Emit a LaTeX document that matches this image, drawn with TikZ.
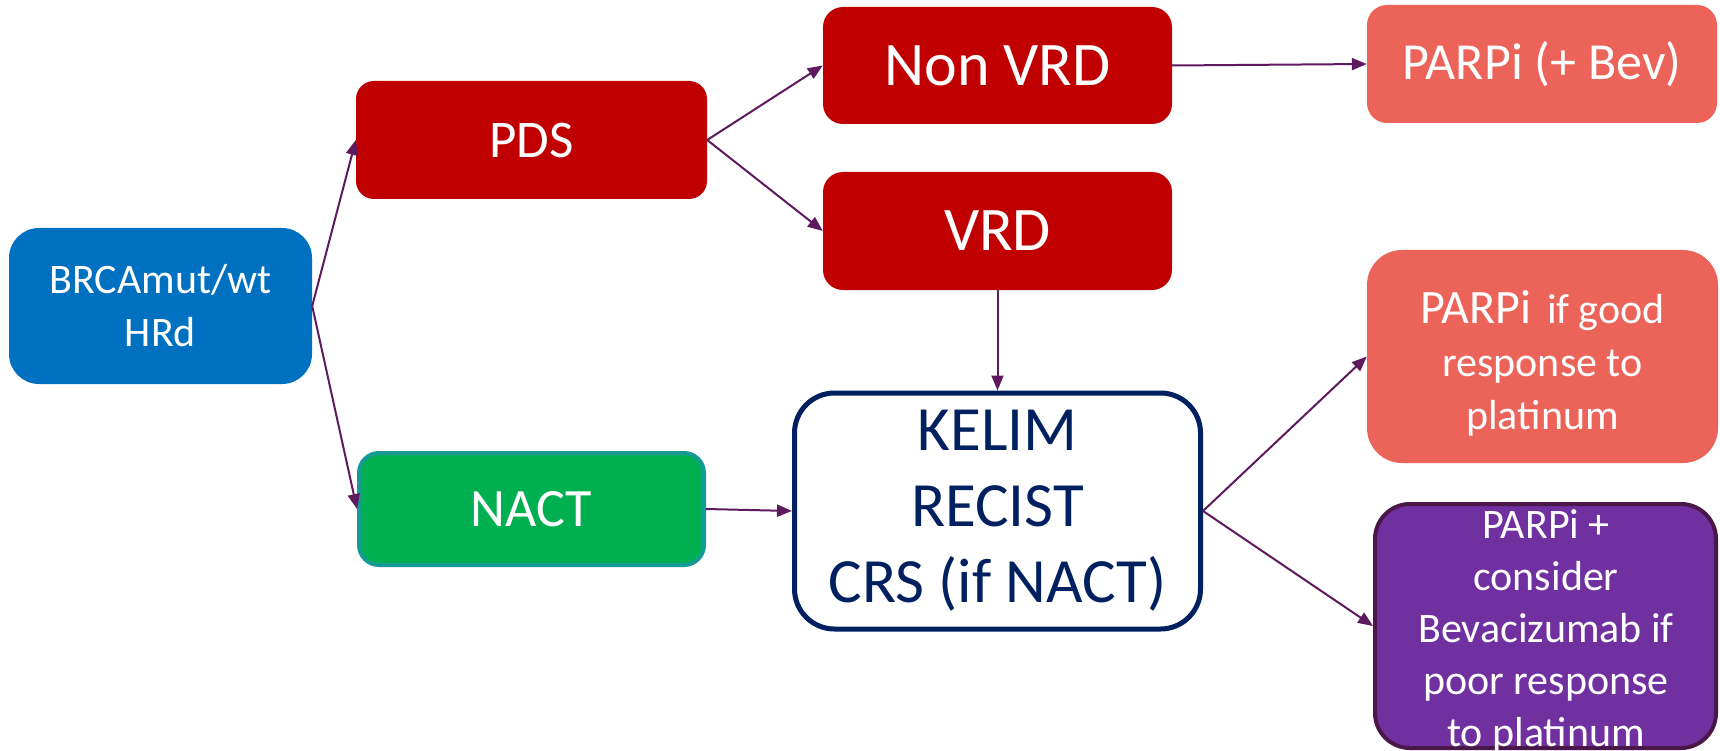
\documentclass[tikz,border=0pt]{standalone}
\usepackage{fontspec}
\setmainfont{Carlito}
\usetikzlibrary{arrows.meta}
\definecolor{cblue}{HTML}{0070C0}
\definecolor{cred}{HTML}{C00000}
\definecolor{csalmon}{HTML}{EC6459}
\definecolor{cgreen}{HTML}{00B050}
\definecolor{cteal}{HTML}{169A96}
\definecolor{cnavy}{HTML}{002060}
\definecolor{cpurple}{HTML}{7030A0}
\definecolor{cpurpleb}{HTML}{4A1848}
\definecolor{cline}{HTML}{5E1A5E}
\begin{document}
\begin{tikzpicture}[x=1pt,y=-1pt,
  box/.style={rounded corners=#1, inner sep=0pt, align=center, text=white},
  conn/.style={draw=cline, line width=2pt, -{Triangle[length=15pt,width=12pt]}}]
\useasboundingbox (0,0) rectangle (1720,751);
\fill[white] (0,0) rectangle (1720,751);

\node[box=30, fill=cblue, minimum width=303pt, minimum height=156pt,
  font=\fontsize{42}{53}\selectfont] (brca) at (160.5,306) {BRCAmut/wt\\HRd};
\node[box=18, fill=cred, minimum width=351pt, minimum height=118pt,
  font=\fontsize{53}{64}\selectfont] (pds) at (531.5,140) {PDS};
\node[box=20, fill=cgreen, draw=cteal, line width=4pt, minimum width=345pt, minimum height=112pt,
  font=\fontsize{54}{65}\selectfont] (nact) at (531.5,509) {NACT};
\node[box=20, fill=cred, minimum width=349pt, minimum height=117pt,
  font=\fontsize{62}{74}\selectfont] (nv) at (997.5,65.5) {Non VRD};
\node[box=20, fill=cred, minimum width=349pt, minimum height=118pt,
  font=\fontsize{62}{74}\selectfont] (vrd) at (997.5,231) {VRD};
\node[box=40, fill=white, draw=cnavy, line width=5pt, text=cnavy, minimum width=406pt, minimum height=236pt,
  font=\fontsize{63}{76}\selectfont] (kel) at (997.5,511) {KELIM\\RECIST\\CRS (if NACT)};
\node[box=20, fill=csalmon, minimum width=350pt, minimum height=118pt,
  font=\fontsize{52}{62}\selectfont] (pb) at (1542,64) {PARPi (+ Bev)};
\node[box=35, fill=csalmon, minimum width=351pt, minimum height=213pt,
  font=\fontsize{42}{53}\selectfont] (pg) at (1542.5,356.5)
  {\rule{0pt}{47pt}{\fontsize{48}{53}\selectfont PARPi}\hspace{16pt}if good\\response to\\platinum};
\node[box=35, fill=cpurple, draw=cpurpleb, line width=4pt, minimum width=341pt, minimum height=244pt] (pc) at (1545.5,626) {};
\node[inner sep=0pt, align=center, text=white, anchor=north,
  font=\fontsize{42}{52}\selectfont] (pct) at (1546,509)
  {PARPi +\\consider\\Bevacizumab if\\poor response\\to platinum};

\draw[conn] (brca.east) -- (pds.west);
\draw[conn] (brca.east) -- (nact.west);
\draw[conn] (pds.east) -- (nv.west);
\draw[conn] (pds.east) -- (vrd.west);
\draw[conn] (nv.east) -- (pb.west);
\draw[conn] (vrd.south) -- (kel.north);
\draw[conn] (nact.east) -- (kel.west);
\draw[conn] (kel.east) -- (pg.west);
\draw[conn] (kel.east) -- (pc.west);
\end{tikzpicture}
\end{document}
